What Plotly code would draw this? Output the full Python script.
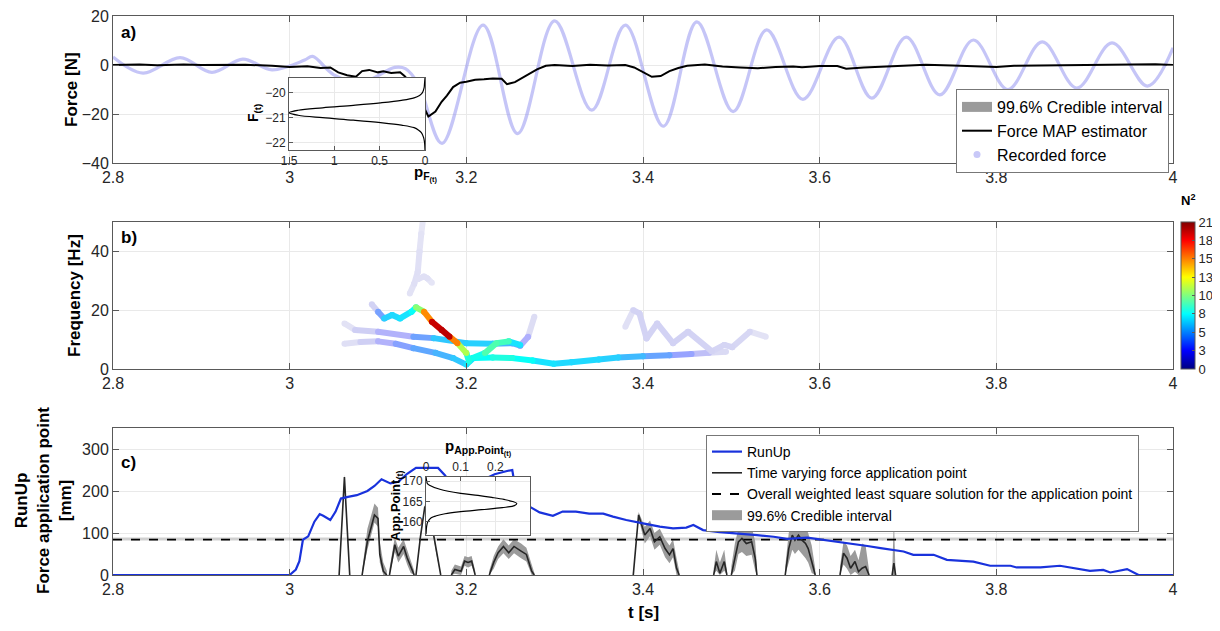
import plotly.graph_objects as go

# ------------------------------------------------------------------ data
x_tickvals = [2.8, 3.0, 3.2, 3.4, 3.6, 3.8, 4.0]
x_ticktext = ['2.8', '3', '3.2', '3.4', '3.6', '3.8', '4']

# panel a : recorded force (extrema)
rec_t = [2.800, 2.834, 2.876, 2.912, 2.947, 2.980, 3.017, 3.026, 3.050, 3.082, 3.119, 3.131,
         3.146, 3.1725, 3.219, 3.258, 3.300, 3.342, 3.380, 3.423, 3.461, 3.502, 3.540, 3.581,
         3.622, 3.659, 3.698, 3.736, 3.774, 3.813, 3.852, 3.891, 3.931, 3.971, 4.000]
rec_f = [3.3, -3.3, 3.0, -3.0, 2.4, -2.0, 2.0, 3.5, -4.0, -7.0, -1.0, -1.5,
         -8.0, -32.0, 16.3, -28.0, 18.0, -18.4, 16.3, -25.0, 17.6, -19.0, 14.3, -14.0,
         11.4, -13.5, 11.4, -12.2, 10.2, -10.0, 9.4, -9.4, 9.0, -8.6, 7.0]

# panel a : force MAP estimator
map_t = [2.80, 2.83, 2.85, 2.88, 2.90, 2.93, 2.95, 2.98, 3.00, 3.02, 3.035, 3.046, 3.055, 3.065,
         3.075, 3.082, 3.09, 3.10, 3.106, 3.115, 3.125, 3.13, 3.14, 3.147, 3.153, 3.157, 3.165,
         3.172, 3.178, 3.185, 3.193, 3.20, 3.21, 3.22, 3.23, 3.24, 3.246, 3.255, 3.265, 3.272,
         3.28, 3.29, 3.30, 3.32, 3.34, 3.36, 3.38, 3.39, 3.40, 3.41, 3.42, 3.43, 3.44, 3.45,
         3.47, 3.49, 3.51, 3.53, 3.55, 3.57, 3.58, 3.60, 3.62, 3.63, 3.65, 3.68, 3.70, 3.72,
         3.75, 3.78, 3.80, 3.82, 3.85, 3.88, 3.90, 3.95, 3.98, 4.00]
map_f = [0.0, 0.2, -0.1, 0.2, 0.0, 0.1, 0.1, -0.3, -0.8, -0.5, -1.2, -1.0, -3.0, -4.2,
         -4.8, -2.5, -2.0, -3.0, -2.6, -3.3, -3.0, -4.5, -8.5, -12.0, -18.0, -21.0, -19.0,
         -15.0, -12.5, -9.0, -7.2, -6.8, -6.0, -5.8, -5.5, -5.6, -7.8, -7.0, -5.0, -3.6,
         -1.8, -0.3, 0.0, -0.4, 0.1, -0.2, 0.0, -1.0, -3.0, -4.8, -4.5, -2.5, -1.2, -0.3,
         0.2, -0.6, -1.0, -1.3, -0.8, -0.6, -0.9, -0.4, -0.4, -1.5, -1.0, -0.6, -0.3, 0.1,
         -0.2, -0.4, -0.8, -0.3, -0.2, -0.3, -0.2, -0.1, 0.3, 0.0]

# inset a : posterior of F(t)
pdfF_val = [-19.4, -19.6, -19.8, -20.0, -20.1, -20.2, -20.3, -20.4, -20.5, -20.6, -20.7, -20.8,
            -20.9, -21.0, -21.1, -21.2, -21.3, -21.4, -21.5, -21.6, -21.8, -22.0, -22.3]
pdfF_p = [0.0, 0.005, 0.01, 0.03, 0.06, 0.12, 0.26, 0.49, 0.79, 1.13, 1.40, 1.50,
          1.40, 1.13, 0.79, 0.49, 0.26, 0.12, 0.07, 0.04, 0.015, 0.005, 0.0]

# panel b : spectral ridges (time, frequency, squared amplitude N^2)
r1_t = [3.062, 3.080, 3.100, 3.120, 3.140, 3.165, 3.185, 3.200, 3.208, 3.230, 3.252, 3.275,
        3.299, 3.319, 3.350, 3.372, 3.400, 3.430, 3.455, 3.475, 3.494]
r1_f = [8.6, 9.2, 9.4, 8.6, 7.1, 5.5, 3.7, 1.5, 3.7, 3.9, 3.7, 2.9,
        1.8, 2.3, 3.2, 3.9, 4.3, 4.7, 5.1, 5.5, 5.9]
r1_a = [0.8, 1.2, 1.8, 3.0, 4.5, 5.5, 6.0, 7.0, 7.5, 8.5, 8.5, 7.5,
        7.0, 7.0, 7.0, 6.5, 5.5, 4.0, 2.5, 1.5, 0.8]

r2_t = [3.062, 3.074, 3.100, 3.140, 3.163, 3.200, 3.230, 3.252, 3.261, 3.270, 3.277]
r2_f = [15.5, 13.3, 12.7, 11.0, 10.5, 8.8, 8.6, 8.8, 7.9, 11.0, 17.8]
r2_a = [0.6, 1.2, 1.8, 3.0, 6.0, 7.0, 6.5, 5.0, 3.5, 1.5, 0.6]

r3_t = [3.093, 3.100, 3.107, 3.116, 3.125, 3.138, 3.143, 3.152, 3.161, 3.172, 3.181, 3.190,
        3.200, 3.203, 3.207, 3.221, 3.234, 3.248, 3.261]
r3_f = [22.0, 19.5, 17.2, 18.4, 17.2, 19.5, 21.0, 19.5, 16.1, 13.3, 11.0, 8.8,
        5.4, 2.6, 3.7, 5.4, 8.8, 9.4, 8.2]
r3_a = [0.8, 2.0, 6.5, 7.0, 7.0, 7.5, 8.5, 13.0, 18.0, 21.0, 18.5, 13.0,
        10.0, 7.0, 7.5, 9.0, 10.0, 8.5, 6.0]

r4_t = [3.136, 3.141, 3.145, 3.147, 3.149, 3.151]
r4_f = [25.7, 29.0, 33.0, 40.0, 46.0, 51.0]
r4_a = [0.8, 1.0, 1.0, 0.9, 0.8, 0.7]

r5_t = [3.145, 3.152, 3.156, 3.161]
r5_f = [30.5, 31.5, 30.8, 29.3]
r5_a = [0.9, 1.0, 0.9, 0.7]

r6_t = [3.380, 3.389, 3.396, 3.404, 3.416, 3.434, 3.451, 3.478, 3.492, 3.501, 3.521, 3.539]
r6_f = [14.4, 20.0, 18.9, 10.4, 15.5, 8.8, 12.7, 6.0, 8.2, 7.4, 12.7, 11.0]
r6_a = [0.6, 1.3, 1.4, 1.3, 1.4, 1.4, 1.4, 1.3, 1.3, 1.3, 1.2, 0.6]

cbar_tickvals = [0, 2.625, 5.25, 7.875, 10.5, 13.125, 15.75, 18.375, 21]
cbar_ticktext = ['0', '3', '5', '8', '10', '13', '15', '18', '21']

# panel c : run-up
runup_t = [2.800, 3.000, 3.007, 3.011, 3.015, 3.021, 3.028, 3.034, 3.038, 3.046, 3.052, 3.058,
           3.066, 3.076, 3.088, 3.096, 3.104, 3.114, 3.123, 3.133, 3.143, 3.168, 3.176, 3.181,
           3.190, 3.200, 3.210, 3.222, 3.232, 3.245, 3.252, 3.256, 3.259, 3.266, 3.273, 3.283,
           3.298, 3.309, 3.324, 3.339, 3.355, 3.366, 3.381, 3.400, 3.419, 3.434, 3.449, 3.457,
           3.468, 3.487, 3.510, 3.529, 3.548, 3.563, 3.586, 3.608, 3.631, 3.654, 3.669, 3.684,
           3.695, 3.706, 3.729, 3.744, 3.759, 3.774, 3.793, 3.816, 3.823, 3.850, 3.872, 3.887,
           3.906, 3.921, 3.929, 3.948, 3.961, 4.000]
runup_mm = [0, 0, 13, 33, 84, 92, 127, 145, 141, 131, 151, 182,
            186, 190, 200, 212, 228, 218, 222, 241, 255, 255, 237, 220,
            226, 228, 229, 230, 240, 247, 250, 200, 162, 157, 161, 149,
            141, 151, 151, 146, 146, 139, 131, 123, 115, 111, 113, 119,
            107, 102, 99, 95, 91, 86, 89, 83, 75, 69, 64, 60,
            56, 48, 48, 36, 34, 32, 22, 22, 18, 18, 22, 16,
            10, 12, 6, 14, 0, 0]

# panel c : time varying force application point (MAP and 99.6% band), gaps = None
app_t = [3.056, 3.062, 3.068, None,
         3.082, 3.088, 3.096, 3.100, 3.102, 3.106, 3.110, None,
         3.113, 3.119, 3.123, 3.129, 3.133, 3.137, 3.141, None,
         3.143, 3.148, 3.153, 3.157, 3.161, 3.166, 3.171, None,
         3.183, 3.187, 3.194, 3.198, 3.202, 3.206, 3.210, None,
         3.226, 3.231, 3.236, 3.242, 3.248, 3.254, 3.262, 3.268, 3.274, 3.277, None,
         3.389, 3.395, 3.402, 3.408, 3.413, 3.419, 3.425, 3.430, 3.434, 3.438, 3.441, None,
         3.480, 3.483, 3.487, 3.492, 3.495, None,
         3.500, 3.504, 3.508, 3.512, 3.517, 3.523, 3.527, 3.529, None,
         3.561, 3.565, 3.569, 3.572, 3.576, 3.580, 3.584, 3.587, 3.591, 3.595, None,
         3.623, 3.627, 3.631, 3.635, 3.640, 3.644, 3.648, 3.652, 3.656, None,
         3.682, 3.684, 3.686]
app_map = [0, 233, 0, None,
           0, 80, 143, 135, 49, 9, 0, None,
           0, 72, 45, 68, 41, 20, 0, None,
           0, 90, 163, 150, 119, 55, 0, None,
           0, 13, 9, 33, 30, 33, 0, None,
           0, 30, 53, 68, 53, 68, 57, 49, 9, 0, None,
           0, 143, 95, 111, 79, 91, 63, 48, 63, 16, 0, None,
           0, 32, 4, 32, 0, None,
           0, 40, 79, 87, 75, 79, 40, 0, None,
           0, 63, 95, 83, 95, 83, 75, 63, 32, 0, None,
           0, 52, 40, 16, 32, 8, 16, 20, 0, None,
           0, 28, 0]
app_hi = [0, 240, 0, None,
          10, 110, 170, 160, 80, 30, 10, None,
          15, 90, 65, 85, 60, 35, 10, None,
          0, 95, 168, 155, 124, 60, 0, None,
          10, 25, 20, 45, 42, 45, 10, None,
          10, 45, 68, 85, 70, 85, 75, 65, 25, 5, None,
          0, 150, 115, 130, 100, 110, 85, 70, 85, 40, 10, None,
          15, 60, 30, 60, 10, None,
          20, 75, 110, 125, 110, 115, 80, 20, None,
          20, 100, 135, 125, 135, 125, 115, 100, 70, 15, None,
          20, 80, 70, 45, 60, 35, 75, 70, 10, None,
          0, 135, 0]
app_lo = [0, 225, 0, None,
          0, 60, 125, 115, 30, 0, 0, None,
          0, 55, 30, 50, 25, 5, 0, None,
          0, 85, 158, 145, 114, 50, 0, None,
          0, 3, 0, 22, 18, 22, 0, None,
          0, 15, 38, 52, 38, 52, 40, 32, 0, 0, None,
          0, 135, 75, 92, 60, 72, 42, 28, 42, 0, 0, None,
          0, 10, 0, 10, 0, None,
          0, 10, 50, 55, 45, 48, 10, 0, None,
          0, 30, 60, 50, 60, 50, 40, 30, 5, 0, None,
          0, 25, 15, 0, 8, 0, 0, 0, 0, None,
          0, 0, 0]

# overall weighted least-squares application point and its interval
ls_value = 84.0
ls_lo = 82.0
ls_hi = 89.0

# inset c : posterior of application point
pdfA_val = [171, 170, 169.4, 169, 168, 167, 166.5, 166, 165.5, 165, 164.5, 164, 163.5, 163,
            162.5, 162, 161.5, 161, 160, 159, 157]
pdfA_p = [0.0, 0.002, 0.004, 0.01, 0.04, 0.10, 0.15, 0.19, 0.225, 0.25, 0.262, 0.255, 0.22,
          0.16, 0.10, 0.055, 0.03, 0.015, 0.005, 0.002, 0.0]

# ------------------------------------------------------------------ geometry helpers
# the page body has an 8 px margin; target positions below are in screenshot pixels
OFF = 8
W, H = 1220 - 2 * OFF, 631 - 2 * OFF
L, R, T, B = 113, 1173, 16, 575


def fx(px):
    return (px - L) / (R - L)


def fy(py):
    return (B - py) / (B - T)


FONT = 'Liberation Sans, Arial, sans-serif'
TXT = '#262626'
AXC = '#595959'
GRID = '#e9e9e9'
BAND = 'rgb(155,155,155)'

JET = [[0.0, 'rgb(0,0,128)'], [0.125, 'rgb(0,0,255)'], [0.375, 'rgb(0,255,255)'],
       [0.625, 'rgb(255,255,0)'], [0.875, 'rgb(255,0,0)'], [1.0, 'rgb(128,0,0)']]


def jet_rgb(v):
    v = max(0.0, min(1.0, v))
    for (p0, c0), (p1, c1) in zip(JET[:-1], JET[1:]):
        if p0 <= v <= p1:
            a = [int(s) for s in c0[4:-1].split(',')]
            b = [int(s) for s in c1[4:-1].split(',')]
            f = (v - p0) / (p1 - p0)
            return [a[k] + (b[k] - a[k]) * f for k in range(3)]
    return [128, 0, 0]


def blend(amp):
    r, g, b = jet_rgb(amp / 21.0)
    a = min(1.0, amp / 8.0)
    return 'rgb(%d,%d,%d)' % (255 * (1 - a) + r * a, 255 * (1 - a) + g * a, 255 * (1 - a) + b * a)


fig = go.Figure()

# ------------------------------------------------------------------ panel a
fig.add_trace(go.Scatter(x=[None], y=[None], mode='lines', line=dict(color=BAND, width=14),
                         name='99.6% Credible interval', xaxis='x', yaxis='y', legend='legend'))
fig.add_trace(go.Scatter(x=rec_t, y=rec_f, mode='lines',
                         line=dict(color='rgba(140,140,240,0.5)', width=3.2, shape='spline', smoothing=1.0),
                         showlegend=False, xaxis='x', yaxis='y', hoverinfo='skip'))
fig.add_trace(go.Scatter(x=map_t, y=map_f, mode='lines', line=dict(color='black', width=2),
                         name='Force MAP estimator', xaxis='x', yaxis='y', legend='legend'))
fig.add_trace(go.Scatter(x=[None], y=[None], mode='markers',
                         marker=dict(color='rgb(200,200,248)', size=7), name='Recorded force',
                         xaxis='x', yaxis='y', legend='legend'))

# inset a
fig.add_trace(go.Scatter(x=pdfF_p, y=pdfF_val, mode='lines', line=dict(color='black', width=1.2, shape='spline'),
                         showlegend=False, xaxis='x4', yaxis='y4'))

# ------------------------------------------------------------------ panel b
ridges = [(r1_t, r1_f, r1_a), (r2_t, r2_f, r2_a), (r4_t, r4_f, r4_a), (r5_t, r5_f, r5_a),
          (r6_t, r6_f, r6_a), (r3_t, r3_f, r3_a)]
for rt, rf, ra in ridges:
    order = sorted(range(len(rt) - 1), key=lambda i: ra[i] + ra[i + 1])
    for i in order:
        col = blend(0.5 * (ra[i] + ra[i + 1]))
        fig.add_trace(go.Scatter(x=[rt[i], rt[i + 1]], y=[rf[i], rf[i + 1]], mode='lines+markers',
                                 line=dict(color=col, width=6), marker=dict(color=col, size=6),
                                 showlegend=False, hoverinfo='skip', xaxis='x2', yaxis='y2'))

# colour bar carrier (point lies outside the visible range)
fig.add_trace(go.Scatter(x=[2.0], y=[-10], mode='markers', showlegend=False, hoverinfo='skip',
                         marker=dict(color=[0], colorscale=JET, cmin=0, cmax=21, showscale=True,
                                     colorbar=dict(x=fx(1181), xanchor='left', xref='paper',
                                                   y=(fy(369) + fy(222)) / 2, yanchor='middle',
                                                   len=fy(222) - fy(369), lenmode='fraction',
                                                   thickness=14, outlinewidth=1, outlinecolor=AXC,
                                                   tickvals=cbar_tickvals, ticktext=cbar_ticktext,
                                                   ticks='inside', ticklen=3, tickcolor=AXC,
                                                   ticklabeloverflow='allow',
                                                   tickfont=dict(size=13, color=TXT, family=FONT),
                                                   xpad=0, ypad=0)),
                         xaxis='x2', yaxis='y2'))

# ------------------------------------------------------------------ panel c
band_x, band_y = [], []
seg_t, seg_lo, seg_hi = [], [], []
for t, lo, hi in list(zip(app_t, app_lo, app_hi)) + [(None, None, None)]:
    if t is None:
        if seg_t:
            band_x += seg_t + seg_t[::-1] + [None]
            band_y += seg_hi + seg_lo[::-1] + [None]
        seg_t, seg_lo, seg_hi = [], [], []
    else:
        seg_t.append(t)
        seg_lo.append(lo)
        seg_hi.append(hi)

fig.add_trace(go.Scatter(x=band_x, y=band_y, mode='none', fill='toself', fillcolor=BAND,
                         showlegend=False, xaxis='x3', yaxis='y3', hoverinfo='skip'))
fig.add_trace(go.Scatter(x=[None], y=[None], mode='lines', line=dict(color=BAND, width=14),
                         name='99.6% Credible interval', legend='legend2', legendrank=4,
                         xaxis='x3', yaxis='y3'))
fig.add_trace(go.Scatter(x=[2.8, 4.0, 4.0, 2.8, 2.8], y=[ls_lo, ls_lo, ls_hi, ls_hi, ls_lo], mode='none',
                         fill='toself', fillcolor='rgba(150,150,150,0.45)', showlegend=False,
                         xaxis='x3', yaxis='y3', hoverinfo='skip'))
fig.add_trace(go.Scatter(x=[2.8, 4.0], y=[ls_value, ls_value], mode='lines',
                         line=dict(color='black', width=1.8, dash='dash'),
                         name='Overall weighted least square solution for the application point',
                         legend='legend2', legendrank=3, xaxis='x3', yaxis='y3'))
fig.add_trace(go.Scatter(x=app_t, y=app_map, mode='lines', line=dict(color='#262626', width=1.6),
                         connectgaps=False, name='Time varying force application point',
                         legend='legend2', legendrank=2, xaxis='x3', yaxis='y3'))
fig.add_trace(go.Scatter(x=runup_t, y=runup_mm, mode='lines', line=dict(color='rgb(25,50,220)', width=2.2),
                         name='RunUp', legend='legend2', legendrank=1, xaxis='x3', yaxis='y3'))

# inset c
fig.add_trace(go.Scatter(x=pdfA_p, y=pdfA_val, mode='lines', line=dict(color='black', width=1.2, shape='spline'),
                         showlegend=False, xaxis='x5', yaxis='y5'))

# ------------------------------------------------------------------ axes
tickfont = dict(size=16, color=TXT, family=FONT)
smallfont = dict(size=12, color=TXT, family=FONT)


def xmain(anchor):
    return dict(domain=[0, 1], anchor=anchor, range=[2.8, 4.0], tickvals=x_tickvals, ticktext=x_ticktext,
                showline=True, linecolor=AXC, linewidth=1, mirror='ticks', ticks='inside', ticklen=6,
                tickcolor=AXC, showgrid=True, gridcolor=GRID, zeroline=False, tickfont=tickfont,
                ticklabeloverflow='allow')


def ymain(anchor, dom, rng, tv):
    return dict(domain=dom, anchor=anchor, range=rng, tickvals=tv, showline=True, linecolor=AXC,
                linewidth=1, mirror='ticks', ticks='inside', ticklen=6, tickcolor=AXC, showgrid=True,
                gridcolor=GRID, zeroline=False, tickfont=tickfont, ticklabeloverflow='allow')


def inset(anchor, dom, rng, tv, tt=None, side=None):
    d = dict(domain=dom, anchor=anchor, range=rng, tickvals=tv, showline=True, linecolor=AXC, mirror=True,
             ticks='inside', ticklen=4, tickcolor=AXC, showgrid=True, gridcolor=GRID, zeroline=False,
             tickfont=smallfont, ticklabeloverflow='allow')
    if tt is not None:
        d['ticktext'] = tt
    if side is not None:
        d['side'] = side
    return d


fig.update_layout(
    xaxis=xmain('y'),
    yaxis=ymain('x', [fy(163), fy(16)], [-40, 20], [-40, -20, 0, 20]),
    xaxis2=xmain('y2'),
    yaxis2=ymain('x2', [fy(369), fy(222)], [0, 50], [0, 20, 40]),
    xaxis3=xmain('y3'),
    yaxis3=ymain('x3', [0, fy(428)], [0, 350], [0, 100, 200, 300]),
    xaxis4=inset('y4', [fx(289), fx(425)], [1.5, 0], [0, 0.5, 1, 1.5], ['0', '0.5', '1', '1.5']),
    yaxis4=inset('x4', [fy(150), fy(78)], [-22.3, -19.4], [-22, -21, -20]),
    xaxis5=inset('y5', [fx(426), fx(530)], [0, 0.3], [0, 0.1, 0.2], ['0', '0.1', '0.2'], side='top'),
    yaxis5=inset('x5', [fy(535), fy(477)], [156.8, 171], [160, 165, 170]),
)

fig.update_layout(
    width=W, height=H,
    margin=dict(l=L - OFF, r=W - (R - OFF), t=T - OFF, b=H - (B - OFF), pad=0, autoexpand=False),
    paper_bgcolor='white', plot_bgcolor='white', font=dict(family=FONT, color=TXT),
    showlegend=True,
    legend=dict(x=fx(956), y=fy(89), xanchor='left', yanchor='top', bgcolor='white',
                bordercolor='#777777', borderwidth=1, font=dict(size=16, color='black', family=FONT),
                tracegroupgap=0, itemwidth=30),
    legend2=dict(x=fx(706), y=fy(435), xanchor='left', yanchor='top', bgcolor='white',
                 bordercolor='#777777', borderwidth=1, font=dict(size=14, color='black', family=FONT),
                 tracegroupgap=0, itemwidth=30),
)


# ------------------------------------------------------------------ texts
def ann(text, px, py, size=17, angle=0, xanchor='center', yanchor='middle'):
    fig.add_annotation(text='<b>%s</b>' % text, x=fx(px), y=fy(py), xref='paper',
                       yref='paper', showarrow=False, textangle=angle, xanchor=xanchor, yanchor=yanchor,
                       font=dict(size=size, color='black', family=FONT))


ann('a)', 119, 33, xanchor='left')
ann('b)', 119, 237, xanchor='left')
ann('c)', 119, 462, xanchor='left')
ann('Force [N]', 72, 90, angle=-90)
ann('Frequency [Hz]', 74, 296, angle=-90)
ann('RunUp<br>Force application point<br>[mm]', 43, 501, angle=-90)
ann('t [s]', 643, 612)
ann('p<sub>F<sub>(t)</sub></sub>', 425, 174, size=15)
ann('F<sub>(t)</sub>', 254, 113, size=14, angle=-90)
ann('p<sub>App.Point<sub>(t)</sub></sub>', 478, 447, size=15)
ann('App.Point<sub>(t)</sub>', 396, 506, size=13, angle=-90)
ann('N<sup>2</sup>', 1188, 200, size=13)

fig.write_html('out.html')
